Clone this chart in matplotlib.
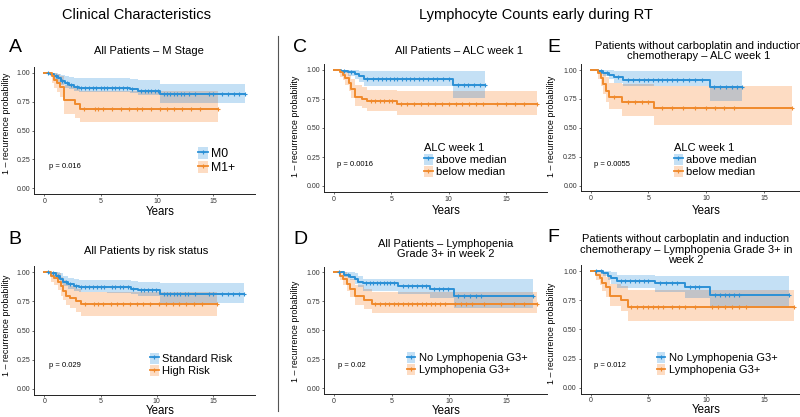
import numpy as np
import matplotlib
matplotlib.use("Agg")
from matplotlib import pyplot as plt
from matplotlib.lines import Line2D
from matplotlib.patches import Patch

plt.rcParams['font.family'] = ['Liberation Sans', 'DejaVu Sans']

# ---- data (time in years, 1 - recurrence probability) ----
# Panel A: M stage
a_m0_t = [0, 0.5, 0.9, 1.2, 1.5, 1.8, 2.2, 2.6, 3.1, 7.6, 8.3, 10.3, 17.8]
a_m0_s = [1.0, 0.99, 0.97, 0.95, 0.93, 0.91, 0.89, 0.88, 0.865, 0.855, 0.84, 0.815, 0.815]
a_m0_lo = [1.0, 0.97, 0.94, 0.91, 0.89, 0.87, 0.855, 0.84, 0.83, 0.825, 0.81, 0.74, 0.74]
a_m0_hi = [1.0, 1.0, 1.0, 0.99, 0.98, 0.97, 0.96, 0.955, 0.95, 0.945, 0.935, 0.90, 0.90]
a_m0_cens = [0.3, 1.0, 1.6, 2.0, 2.4, 2.9, 3.3, 3.6, 4.0, 4.3, 4.6, 5.0, 5.3, 5.6, 6.0, 6.3,
             6.6, 7.0, 7.3, 7.8, 8.6, 8.9, 9.2, 9.5, 9.8, 10.1, 10.6, 10.9, 11.2, 11.5,
             11.8, 12.1, 12.4, 12.8, 13.4, 14.6, 15.0, 15.8, 16.3, 16.8, 17.3, 17.8]
a_m1_t = [0, 0.65, 0.9, 1.1, 1.4, 1.75, 2.7, 3.2, 15.4]
a_m1_s = [1.0, 0.97, 0.94, 0.91, 0.88, 0.76, 0.73, 0.69, 0.69]
a_m1_lo = [1.0, 0.91, 0.87, 0.83, 0.79, 0.64, 0.61, 0.575, 0.575]
a_m1_hi = [1.0, 1.0, 1.0, 0.99, 0.97, 0.89, 0.87, 0.845, 0.845]
a_m1_cens = [3.5, 4.5, 4.8, 5.2, 6.0, 6.8, 7.5, 8.2, 8.7, 9.5, 10.3, 10.9, 11.5, 12.2,
             13.0, 13.8, 15.4]

# Panel B: risk status
b_std_t = [0, 0.5, 1.0, 1.4, 1.7, 2.1, 2.6, 3.1, 5.6, 7.7, 8.3, 10.3, 17.8]
b_std_s = [1.0, 0.99, 0.97, 0.94, 0.92, 0.90, 0.885, 0.875, 0.87, 0.86, 0.845, 0.815, 0.815]
b_std_lo = [1.0, 0.97, 0.94, 0.90, 0.88, 0.86, 0.84, 0.83, 0.825, 0.815, 0.80, 0.74, 0.74]
b_std_hi = [1.0, 1.0, 1.0, 0.99, 0.97, 0.955, 0.94, 0.935, 0.93, 0.925, 0.915, 0.905, 0.905]
b_std_cens = [0.3, 0.8, 1.2, 1.9, 2.3, 2.8, 3.3, 3.6, 4.0, 4.3, 4.7, 5.0, 5.3, 6.0, 6.3,
              6.7, 7.0, 7.4, 7.9, 8.6, 8.9, 9.2, 9.6, 9.9, 10.6, 10.9, 11.2, 11.5, 11.8,
              12.1, 12.5, 12.8, 13.4, 14.6, 15.0, 15.8, 16.3, 16.8, 17.3, 17.8]
b_high_t = [0, 0.6, 0.9, 1.2, 1.5, 1.7, 1.9, 2.3, 2.8, 3.3, 15.4]
b_high_s = [1.0, 0.97, 0.95, 0.92, 0.88, 0.84, 0.80, 0.78, 0.75, 0.725, 0.725]
b_high_lo = [1.0, 0.92, 0.89, 0.85, 0.80, 0.76, 0.72, 0.69, 0.66, 0.625, 0.625]
b_high_hi = [1.0, 1.0, 1.0, 0.99, 0.96, 0.93, 0.90, 0.88, 0.86, 0.835, 0.835]
b_high_cens = [3.6, 4.4, 4.8, 5.2, 5.9, 6.5, 7.0, 7.6, 8.2, 8.8, 9.4, 10.2, 10.8, 11.4,
               12.0, 12.6, 13.3, 14.0, 15.4]

# Panel C: ALC week 1, all patients
c_above_t = [0, 0.6, 1.2, 1.8, 2.2, 2.6, 10.4, 13.2]
c_above_s = [1.0, 0.99, 0.98, 0.965, 0.945, 0.925, 0.868, 0.868]
c_above_lo = [1.0, 0.97, 0.95, 0.925, 0.90, 0.865, 0.76, 0.76]
c_above_hi = [1.0, 1.0, 1.0, 1.0, 0.995, 0.99, 0.99, 0.99]
c_above_cens = [0.9, 1.5, 2.9, 3.4, 3.8, 4.2, 4.5, 4.9, 5.2, 5.5, 5.9, 6.3, 6.6, 7.0, 7.4,
                7.8, 8.2, 8.6, 9.0, 9.5, 10.0, 10.8, 11.3, 11.7, 12.2, 12.7, 13.2]
c_below_t = [0, 0.5, 0.8, 1.0, 1.3, 1.5, 1.8, 2.4, 2.9, 5.5, 17.7]
c_below_s = [1.0, 0.98, 0.96, 0.93, 0.89, 0.84, 0.77, 0.75, 0.73, 0.705, 0.705]
c_below_lo = [1.0, 0.94, 0.91, 0.87, 0.82, 0.76, 0.69, 0.67, 0.65, 0.615, 0.615]
c_below_hi = [1.0, 1.0, 1.0, 0.99, 0.96, 0.92, 0.87, 0.85, 0.83, 0.815, 0.815]
c_below_cens = [3.2, 3.6, 4.0, 4.4, 4.8, 5.1, 5.8, 6.4, 7.0, 7.6, 8.2, 8.8, 9.4, 10.0,
                10.6, 11.2, 11.8, 12.4, 13.0, 14.2, 15.0, 15.8, 16.6, 17.7]

# Panel D: lymphopenia grade 3+ in week 2, all patients
d_no_t = [0, 0.9, 1.4, 1.8, 2.1, 2.5, 5.6, 8.3, 10.4, 17.3]
d_no_s = [1.0, 0.98, 0.96, 0.94, 0.92, 0.905, 0.882, 0.853, 0.798, 0.798]
d_no_lo = [1.0, 0.96, 0.93, 0.90, 0.87, 0.835, 0.81, 0.776, 0.69, 0.69]
d_no_hi = [1.0, 1.0, 1.0, 0.99, 0.97, 0.945, 0.942, 0.942, 0.942, 0.942]
d_no_cens = [0.4, 1.2, 2.8, 3.1, 3.4, 3.7, 4.0, 4.3, 4.6, 4.9, 5.2, 6.0, 6.4, 6.8, 7.2,
             7.6, 8.0, 8.7, 9.1, 9.5, 9.9, 10.8, 11.3, 11.8, 12.3, 12.8, 17.3]
d_ly_t = [0, 0.5, 0.8, 1.1, 1.4, 1.8, 2.6, 3.3, 17.6]
d_ly_s = [1.0, 0.97, 0.94, 0.90, 0.86, 0.80, 0.76, 0.725, 0.725]
d_ly_lo = [1.0, 0.93, 0.89, 0.84, 0.79, 0.72, 0.68, 0.645, 0.645]
d_ly_hi = [1.0, 1.0, 1.0, 0.97, 0.94, 0.89, 0.86, 0.83, 0.83]
d_ly_cens = [3.6, 4.0, 4.4, 4.8, 5.2, 5.6, 6.0, 6.4, 6.8, 7.2, 7.6, 8.0, 8.4, 8.8, 9.2,
             9.6, 10.5, 11.0, 11.5, 12.0, 13.0, 14.5, 15.6, 16.5, 17.6]

# Panel E: ALC week 1, without carboplatin and induction chemotherapy
e_above_t = [0, 0.6, 1.1, 1.6, 2.0, 2.8, 10.3, 13.1]
e_above_s = [1.0, 0.99, 0.975, 0.96, 0.94, 0.915, 0.853, 0.853]
e_above_lo = [1.0, 0.97, 0.945, 0.92, 0.89, 0.86, 0.73, 0.73]
e_above_hi = [1.0, 1.0, 1.0, 1.0, 0.995, 0.99, 0.99, 0.99]
e_above_cens = [0.9, 1.4, 2.4, 3.2, 3.7, 4.2, 4.6, 5.0, 5.4, 5.8, 6.2, 6.6, 7.0, 7.5, 8.0,
                8.5, 9.0, 9.6, 10.7, 11.2, 11.7, 12.2, 12.7, 13.1]
e_below_t = [0, 0.6, 0.9, 1.1, 1.3, 1.6, 2.7, 5.5, 17.4]
e_below_s = [1.0, 0.97, 0.93, 0.88, 0.82, 0.765, 0.723, 0.675, 0.675]
e_below_lo = [1.0, 0.92, 0.86, 0.79, 0.72, 0.66, 0.60, 0.525, 0.525]
e_below_hi = [1.0, 1.0, 1.0, 0.98, 0.94, 0.89, 0.875, 0.86, 0.86]
e_below_cens = [2.0, 3.2, 3.8, 4.4, 5.0, 6.2, 7.0, 8.0, 9.0, 10.0, 10.8, 11.5, 12.4, 17.4]

# Panel F: lymphopenia grade 3+ in week 2, without carboplatin and induction chemotherapy
f_no_t = [0, 1.1, 1.5, 1.8, 2.25, 5.6, 8.2, 10.3, 17.2]
f_no_s = [1.0, 0.985, 0.96, 0.94, 0.915, 0.90, 0.86, 0.795, 0.795]
f_no_lo = [1.0, 0.96, 0.92, 0.89, 0.855, 0.82, 0.77, 0.68, 0.68]
f_no_hi = [1.0, 1.0, 1.0, 0.99, 0.97, 0.96, 0.957, 0.957, 0.957]
f_no_cens = [0.5, 0.9, 2.6, 3.0, 3.4, 3.8, 4.2, 4.6, 5.0, 6.0, 6.5, 7.0, 7.5, 8.6, 9.0,
             9.4, 10.8, 11.2, 11.6, 12.0, 12.4, 12.8, 17.2]
f_ly_t = [0, 0.5, 0.8, 1.0, 1.3, 1.65, 2.65, 3.2, 17.6]
f_ly_s = [1.0, 0.97, 0.94, 0.90, 0.86, 0.79, 0.755, 0.69, 0.69]
f_ly_lo = [1.0, 0.92, 0.88, 0.83, 0.78, 0.70, 0.66, 0.57, 0.57]
f_ly_hi = [1.0, 1.0, 1.0, 0.98, 0.95, 0.89, 0.87, 0.84, 0.84]
f_ly_cens = [3.5, 4.0, 4.5, 5.0, 5.4, 5.8, 6.3, 7.0, 7.6, 8.2, 9.0, 10.5, 11.0, 11.6, 12.2,
             12.8, 13.4, 17.6]

x_ticks = [0, 5, 10, 15]
y_ticks = [0.0, 0.25, 0.5, 0.75, 1.0]
y_ticklabels = ['0.00', '0.25', '0.50', '0.75', '1.00']

BLUE, ORANGE = '#2b90d6', '#f08a2c'
BLUE_FILL, ORANGE_FILL, GREY_FILL = '#c4e0f5', '#fddcc3', '#c2c3c7'

W, H = 800, 417
fig = plt.figure(figsize=(8.0, 4.17), dpi=100)


def fx(x):
    return x / W


def fy(y):
    return 1 - y / H


def step_at(t, v, grid):
    idx = np.searchsorted(t, grid, side='right') - 1
    return np.asarray(v)[np.clip(idx, 0, len(v) - 1)]


def km_panel(px, curves, xmax):
    # px: pixel position of x=0, x=15, y=1, y=0
    x0, x15, y1, y0 = px
    ax = fig.add_axes([0, 0, 1, 1])
    pxyr = (x15 - x0) / 15
    lo, hi = -0.05 * xmax, 1.05 * xmax
    left, right = x0 + lo * pxyr, x0 + hi * pxyr
    pxu = y0 - y1
    top, bottom = y1 - 0.05 * pxu, y0 + 0.05 * pxu
    ax.set_position([fx(left), fy(bottom), (right - left) / W, (bottom - top) / H])
    ax.set_xlim(lo, hi)
    ax.set_ylim(-0.05, 1.05)

    fills = [BLUE_FILL, ORANGE_FILL]
    for (t, s, l, h, cens), col, fc in zip(curves, [BLUE, ORANGE], fills):
        ax.fill_between(t, l, h, step='post', color=fc, lw=0, zorder=1)
    # overlap of the two confidence bands
    (t1, _, l1, h1, _), (t2, _, l2, h2, _) = curves
    end = min(t1[-1], t2[-1])
    grid = np.unique([v for v in list(t1) + list(t2) if v <= end] + [end])
    bot = np.maximum(step_at(t1, l1, grid), step_at(t2, l2, grid))
    topv = np.maximum(np.minimum(step_at(t1, h1, grid), step_at(t2, h2, grid)), bot)
    ax.fill_between(grid, bot, topv, step='post', color=GREY_FILL, lw=0, zorder=2)

    for (t, s, l, h, cens), col in zip(curves, [BLUE, ORANGE]):
        ax.step(t, s, where='post', color=col, lw=1.4, zorder=3)
        ax.plot(cens, step_at(t, s, np.asarray(cens)), ls='none', marker='+',
                color=col, ms=3.5, mew=0.8, zorder=4)

    ax.set_xticks(x_ticks)
    ax.set_yticks(y_ticks)
    ax.set_yticklabels(y_ticklabels)
    ax.tick_params(labelsize=5, length=1.5, width=0.5, pad=1.2, colors='#333333',
                   labelcolor='#333333')
    for side in ['top', 'right']:
        ax.spines[side].set_visible(False)
    for side in ['left', 'bottom']:
        ax.spines[side].set_linewidth(0.7)
        ax.spines[side].set_color('#222222')
    return ax


def add_legend(ax, labels, key_x, center_y, title=None, size=8):
    handles = [(Patch(facecolor=BLUE_FILL, edgecolor='none'),
                Line2D([], [], color=BLUE, lw=1.3, marker='+', ms=3.5, mew=0.8)),
               (Patch(facecolor=ORANGE_FILL, edgecolor='none'),
                Line2D([], [], color=ORANGE, lw=1.3, marker='+', ms=3.5, mew=0.8))]
    leg = ax.legend(handles, labels, loc='center left',
                    bbox_to_anchor=(fx(key_x), fy(center_y)),
                    bbox_transform=fig.transFigure, frameon=False, fontsize=size,
                    title=title, title_fontsize=size, alignment='left',
                    borderpad=0, borderaxespad=0, handlelength=0.8,
                    handleheight=1.1, handletextpad=0.3, labelspacing=0.1)
    return leg


def ytitle(x, y):
    fig.text(fx(x), fy(y), '1 – recurrence probability', rotation=90, fontsize=6.4,
             ha='center', va='center')


curves_a = [(a_m0_t, a_m0_s, a_m0_lo, a_m0_hi, a_m0_cens),
            (a_m1_t, a_m1_s, a_m1_lo, a_m1_hi, a_m1_cens)]
curves_b = [(b_std_t, b_std_s, b_std_lo, b_std_hi, b_std_cens),
            (b_high_t, b_high_s, b_high_lo, b_high_hi, b_high_cens)]
curves_c = [(c_above_t, c_above_s, c_above_lo, c_above_hi, c_above_cens),
            (c_below_t, c_below_s, c_below_lo, c_below_hi, c_below_cens)]
curves_d = [(d_no_t, d_no_s, d_no_lo, d_no_hi, d_no_cens),
            (d_ly_t, d_ly_s, d_ly_lo, d_ly_hi, d_ly_cens)]
curves_e = [(e_above_t, e_above_s, e_above_lo, e_above_hi, e_above_cens),
            (e_below_t, e_below_s, e_below_lo, e_below_hi, e_below_cens)]
curves_f = [(f_no_t, f_no_s, f_no_lo, f_no_hi, f_no_cens),
            (f_ly_t, f_ly_s, f_ly_lo, f_ly_hi, f_ly_cens)]

ax_a = km_panel((44.3, 213.3, 72.7, 188.3), curves_a, 17.8)
ax_b = km_panel((44.3, 213.0, 272.3, 388.7), curves_b, 17.8)
ax_c = km_panel((334.0, 506.0, 70.0, 186.0), curves_c, 17.7)
ax_d = km_panel((334.0, 506.7, 272.3, 388.3), curves_d, 17.6)
ax_e = km_panel((590.7, 764.0, 70.0, 185.7), curves_e, 17.4)
ax_f = km_panel((590.7, 764.0, 271.0, 387.7), curves_f, 17.6)

add_legend(ax_a, ['M0', 'M1+'], 198, 160.5, size=8.8)
add_legend(ax_b, ['Standard Risk', 'High Risk'], 150, 364.5)
add_legend(ax_c, ['above median', 'below median'], 424, 160, title='ALC week 1')
add_legend(ax_d, ['No Lymphopenia G3+', 'Lymphopenia G3+'], 406.5, 363.7)
add_legend(ax_e, ['above median', 'below median'], 674, 160, title='ALC week 1')
add_legend(ax_f, ['No Lymphopenia G3+', 'Lymphopenia G3+'], 656.5, 363.7)

# p values
for x, y, txt in [(49, 166.7, 'p = 0.016'), (49, 365.7, 'p = 0.029'),
                  (337.3, 165, 'p = 0.0016'), (338.3, 365.7, 'p = 0.02'),
                  (594.3, 165, 'p = 0.0055'), (594.3, 365.7, 'p = 0.012')]:
    fig.text(fx(x), fy(y), txt, fontsize=5.5, ha='left', va='center')

# axis titles
for x, y in [(160.7, 212), (160.5, 411.5), (445.8, 210.5), (445.8, 410.5),
             (705.8, 210.5), (705.8, 410)]:
    fig.text(fx(x), fy(y), 'Years', fontsize=8.3, ha='center', va='center')
for x, y in [(7, 123), (7, 325), (295, 126.7), (295, 331.7), (551.7, 126.7), (551.7, 333)]:
    ytitle(x, y)

# panel titles
fig.text(fx(149), fy(51), 'All Patients – M Stage', fontsize=8, ha='center', va='center')
fig.text(fx(146), fy(251), 'All Patients by risk status', fontsize=8, ha='center', va='center')
fig.text(fx(459), fy(51), 'All Patients – ALC week 1', fontsize=8, ha='center', va='center')
fig.text(fx(446), fy(249), 'All Patients – Lymphopenia\nGrade 3+ in week 2', fontsize=8,
         ha='center', va='center', linespacing=1.1)
fig.text(fx(699), fy(51), 'Patients without carboplatin and induction\nchemotherapy – ALC week 1',
         fontsize=8, ha='center', va='center', linespacing=1.1)
fig.text(fx(686), fy(249.5),
         'Patients without carboplatin and induction\nchemotherapy – Lymphopenia Grade 3+ in\nweek 2',
         fontsize=8, ha='center', va='center', linespacing=1.1)

# panel letters
for x, y, letter in [(9, 47, 'A'), (8, 240, 'B'), (293, 47, 'C'), (293, 240, 'D'),
                     (547, 47, 'E'), (547, 238, 'F')]:
    fig.text(fx(x), fy(y), letter, fontsize=14, ha='left', va='center')

# section headers and divider
fig.text(fx(137), fy(15), 'Clinical Characteristics', fontsize=10.5, ha='center', va='center')
fig.text(fx(536), fy(15), 'Lymphocyte Counts early during RT', fontsize=10.5,
         ha='center', va='center')
fig.add_artist(Line2D([fx(278), fx(278)], [fy(36), fy(411)], color='#555555', lw=0.8))

fig.savefig('out.png', dpi=100)
